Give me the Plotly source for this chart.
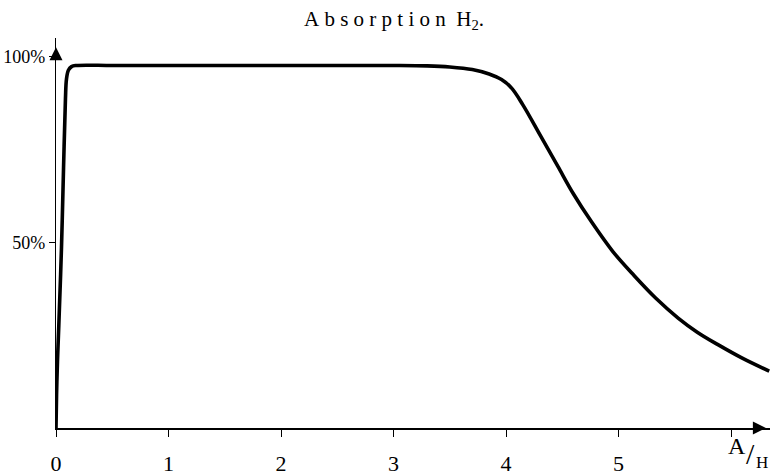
import plotly.graph_objects as go

# Data (x = A/H ratio, y = absorption in %)
ratio = [0.0, 0.005, 0.013, 0.025, 0.049, 0.067, 0.084, 0.093, 0.11, 0.138, 0.18,
         0.5, 1.0, 1.5, 2.0, 2.5, 3.0, 3.3, 3.5, 3.7, 3.85, 3.96, 4.05, 4.15,
         4.31, 4.46, 4.60, 4.76, 4.95, 5.14, 5.33, 5.53, 5.70, 5.88, 6.1, 6.34]
absorption = [0.0, 9.0, 17.8, 27.6, 48.8, 70.0, 88.6, 93.9, 96.3, 97.3, 97.6,
              97.6, 97.6, 97.6, 97.6, 97.6, 97.6, 97.5, 97.2, 96.5, 95.3, 93.8, 91.5, 87.0,
              78.5, 70.5, 63.0, 55.5, 47.5, 41.0, 35.0, 29.6, 25.8, 22.5, 18.8, 15.3]

x_tickvals = [0, 1, 2, 3, 4, 5]
x_ticktext = ["0", "1", "2", "3", "4", "5"]
x_extra_tick = [6]
y_tickvals = [50, 100]
y_ticktext = ["50%", "100%"]

title_text = "A\u2005b\u2005s\u2005o\u2005r\u2005p\u2005t\u2005i\u2005o\u2005n\u2005\u2005H<sub>2</sub>."

SERIF = "Liberation Serif"
X_MAX = 714 / 112.5

fig = go.Figure()
fig.add_trace(go.Scatter(
    x=ratio, y=absorption, mode="lines",
    line=dict(color="black", width=3.6, shape="spline", smoothing=1.0),
    hoverinfo="skip", showlegend=False,
))

# axis arrowheads
fig.add_trace(go.Scatter(
    x=[6.31], y=[0], mode="markers", cliponaxis=False,
    marker=dict(symbol="arrow-right", size=13, color="black"),
    hoverinfo="skip", showlegend=False,
))
fig.add_trace(go.Scatter(
    x=[0], y=[102.5], mode="markers", cliponaxis=False,
    marker=dict(symbol="arrow-up", size=13, color="black"),
    hoverinfo="skip", showlegend=False,
))

fig.update_layout(
    width=770, height=476,
    margin=dict(l=56, r=0, t=38, b=42),
    paper_bgcolor="white", plot_bgcolor="white",
    showlegend=False,
    xaxis=dict(
        range=[0, X_MAX], showgrid=False, zeroline=False,
        showline=True, linecolor="black", linewidth=1.8,
        ticks="outside", ticklen=7, tickwidth=1.2, tickcolor="black",
        tickvals=x_tickvals, ticktext=x_ticktext,
        tickfont=dict(family=SERIF, size=22, color="black"),
        ticklabelstandoff=8,
        minor=dict(tickvals=x_extra_tick, ticks="outside", ticklen=7,
                   tickwidth=1.2, tickcolor="black", showgrid=False),
    ),
    yaxis=dict(
        range=[0, 105], showgrid=False, zeroline=False,
        showline=True, linecolor="black", linewidth=1.4,
        ticks="outside", ticklen=6, tickwidth=1.2, tickcolor="black",
        tickvals=y_tickvals, ticktext=y_ticktext,
        tickfont=dict(family=SERIF, size=18, color="black"),
    ),
)

# title
fig.add_annotation(x=3.0, y=1.045, xref="x", yref="paper", text=title_text,
                   showarrow=False, font=dict(family=SERIF, size=21, color="black"),
                   xanchor="center", yanchor="middle")

# x axis label A/H
fig.add_annotation(x=0.954, y=-0.045, xref="paper", yref="paper", text="A",
                   showarrow=False, font=dict(family=SERIF, size=24, color="black"),
                   xanchor="center", yanchor="middle")
fig.add_annotation(x=0.972, y=-0.066, xref="paper", yref="paper", text="/",
                   showarrow=False, font=dict(family=SERIF, size=30, color="black"),
                   xanchor="center", yanchor="middle")
fig.add_annotation(x=0.989, y=-0.088, xref="paper", yref="paper", text="H",
                   showarrow=False, font=dict(family=SERIF, size=17, color="black"),
                   xanchor="center", yanchor="middle")

fig.write_html("out.html")
